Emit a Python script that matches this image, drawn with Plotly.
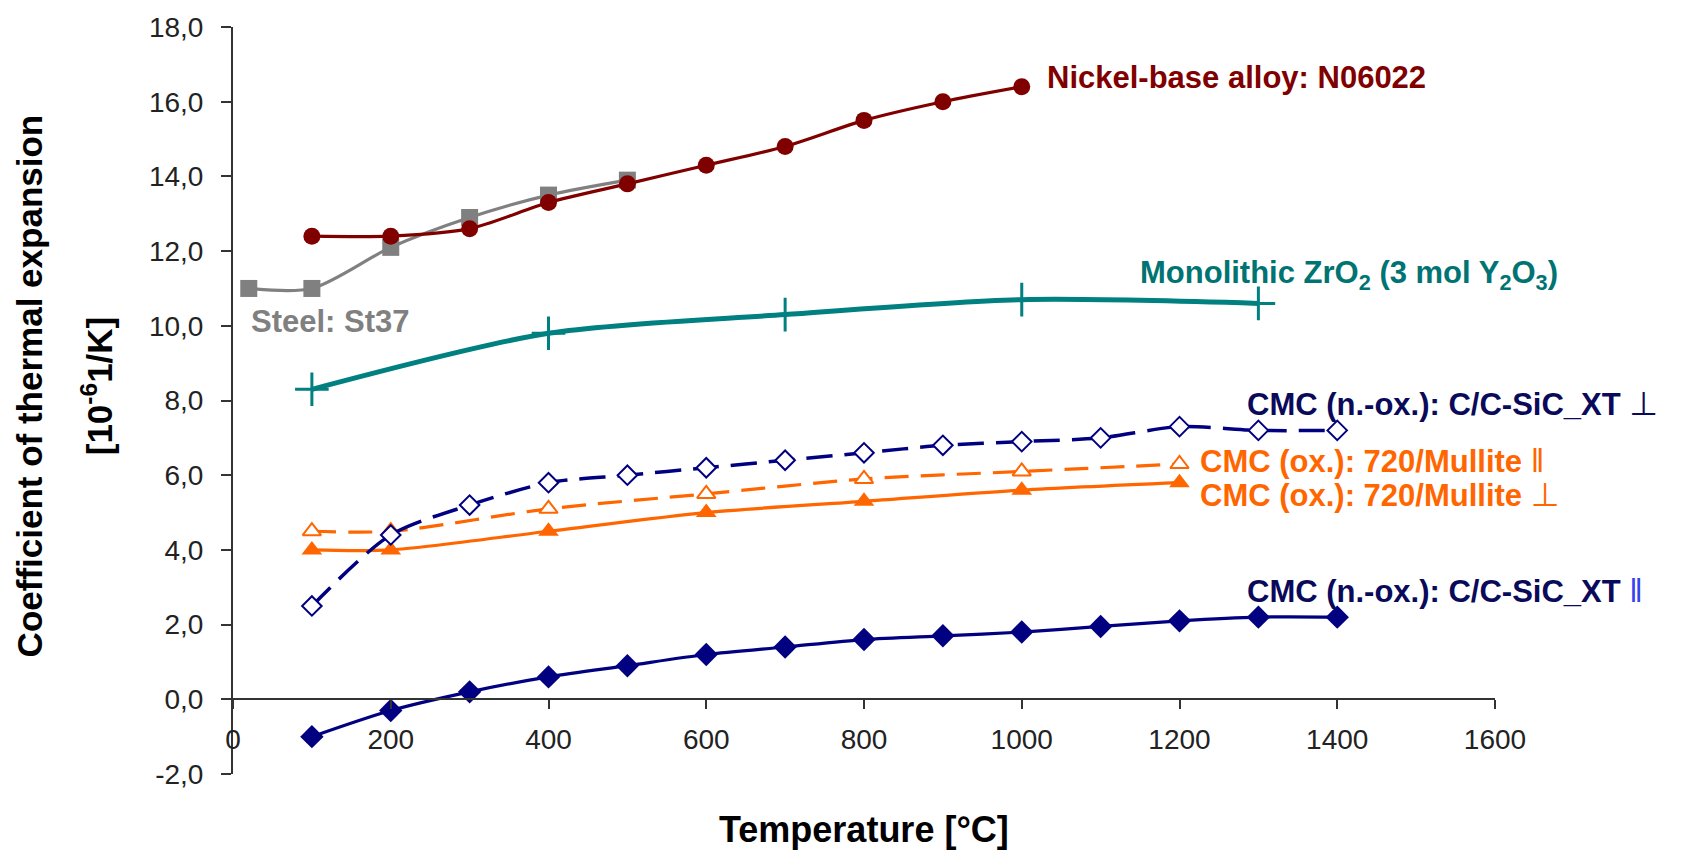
import plotly.graph_objects as go

# Coefficient of thermal expansion [10^-6 1/K] versus temperature [°C]
temp_nickel = [100, 200, 300, 400, 500, 600, 700, 800, 900, 1000]
cte_nickel = [12.4, 12.4, 12.6, 13.3, 13.8, 14.3, 14.8, 15.5, 16.0, 16.4]

temp_steel = [20, 100, 200, 300, 400, 500]
cte_steel = [11.0, 11.0, 12.1, 12.9, 13.5, 13.9]

temp_zro2 = [100, 400, 700, 1000, 1300]
cte_zro2 = [8.3, 9.8, 10.3, 10.7, 10.6]

temp_cc_sic = [100, 200, 300, 400, 500, 600, 700, 800, 900, 1000, 1100, 1200, 1300, 1400]
cte_cc_sic_perp = [2.5, 4.4, 5.2, 5.8, 6.0, 6.2, 6.4, 6.6, 6.8, 6.9, 7.0, 7.3, 7.2, 7.2]
cte_cc_sic_par = [-1.0, -0.3, 0.2, 0.6, 0.9, 1.2, 1.4, 1.6, 1.7, 1.8, 1.95, 2.1, 2.2, 2.2]

temp_mullite = [100, 200, 400, 600, 800, 1000, 1200]
cte_mullite_par = [4.5, 4.5, 5.1, 5.5, 5.9, 6.1, 6.3]
cte_mullite_perp = [4.0, 4.0, 4.5, 5.0, 5.3, 5.6, 5.8]

x_ticks = [0, 200, 400, 600, 800, 1000, 1200, 1400, 1600]
y_ticks = [-2, 0, 2, 4, 6, 8, 10, 12, 14, 16, 18]
# decimal comma, plain hyphen for negatives
y_ticktext = [f"{v:.1f}".replace(".", ",") for v in y_ticks]

RED = "#800000"
GRAY = "#808080"
TEAL = "#008080"
NAVY = "#000080"
ORANGE = "#FF6600"
FONT = "Liberation Sans, Arial, DejaVu Sans, sans-serif"

fig = go.Figure()

def add_series(x, y, color, width, symbol, size, fill, dash="solid", mline=2, smooth=0.8):
    fig.add_trace(go.Scatter(
        x=x, y=y, mode="lines+markers",
        line=dict(color=color, width=width, dash=dash, shape="spline", smoothing=smooth),
        marker=dict(symbol=symbol, size=size, color=fill,
                    line=dict(color=color, width=mline)),
        showlegend=False, hoverinfo="x+y",
    ))

add_series(temp_steel, cte_steel, GRAY, 3.2, "square", 17, GRAY, mline=0)
add_series(temp_nickel, cte_nickel, RED, 3.2, "circle", 17, RED, mline=0)
add_series(temp_zro2, cte_zro2, TEAL, 5, "cross-thin", 24, TEAL, mline=3)
add_series(temp_mullite, cte_mullite_perp, ORANGE, 3.2, "triangle-up", 18, ORANGE, mline=0)
add_series(temp_mullite, cte_mullite_par, ORANGE, 3.2, "triangle-up", 16, "white",
           dash="24px,12px", mline=2)
add_series(temp_cc_sic, cte_cc_sic_par, NAVY, 3.2, "diamond", 18, NAVY, mline=0)
add_series(temp_cc_sic, cte_cc_sic_perp, NAVY, 3.5, "diamond", 15, "white",
           dash="26px,12px", mline=2)

THIN = "font-weight:normal;font-size:33px"
labels = [
    (1029, 16.66, "Nickel-base alloy: N06022", RED),
    (20, 10.12, "Steel: St37", GRAY),
    (1147, 11.37, "Monolithic ZrO<sub>2</sub> (3 mol Y<sub>2</sub>O<sub>3</sub>)", "#007373"),
    (1283, 7.91, f"CMC (n.-ox.): C/C-SiC_XT <span style='{THIN}'>⊥</span>", "#0a0a5a"),
    (1223, 6.39, f"CMC (ox.): 720/Mullite <span style='{THIN}'>‖</span>", ORANGE),
    (1223, 5.49, f"CMC (ox.): 720/Mullite <span style='{THIN}'>⊥</span>", ORANGE),
    (1283, 2.91, f"CMC (n.-ox.): C/C-SiC_XT <span style='color:#3344ee;{THIN}'>‖</span>", "#0a0a5a"),
]
for lx, ly, text, color in labels:
    fig.add_annotation(x=lx, y=ly, xref="x", yref="y", text="<b>" + text + "</b>",
                       showarrow=False, xanchor="left", yanchor="middle",
                       font=dict(family=FONT, size=31, color=color))

# axis titles
fig.add_annotation(x=0.5, y=-0.074, xref="paper", yref="paper",
                   text="<b>Temperature [°C]</b>", showarrow=False,
                   xanchor="center", yanchor="middle",
                   font=dict(family=FONT, size=36, color="black"))
fig.add_annotation(x=-0.161, y=0.52, xref="paper", yref="paper",
                   text="<b>Coefficient of thermal expansion</b>", showarrow=False,
                   textangle=-90, xanchor="center", yanchor="middle",
                   font=dict(family=FONT, size=35, color="black"))
fig.add_annotation(x=-0.108, y=0.52, xref="paper", yref="paper",
                   text="<b>[10<sup>-6</sup>1/K]</b>", showarrow=False,
                   textangle=-90, xanchor="center", yanchor="middle",
                   font=dict(family=FONT, size=35, color="black"))

fig.update_layout(
    width=1684, height=850,
    margin=dict(l=233, r=189, t=23, b=76),
    paper_bgcolor="white", plot_bgcolor="white",
    showlegend=False,
)
fig.update_xaxes(
    range=[0, 1600], tickvals=x_ticks, tickformat="d",
    anchor="free", position=0.1,
    showline=True, linecolor="#333333", linewidth=2,
    ticks="outside", ticklen=9, tickwidth=1.5, tickcolor="#333333",
    ticklabelstandoff=6,
    tickfont=dict(family=FONT, size=28, color="#222222"),
    showgrid=False, zeroline=False,
)
fig.update_yaxes(
    range=[-2, 18], tickvals=y_ticks, ticktext=y_ticktext,
    showline=True, linecolor="#333333", linewidth=2,
    ticks="outside", ticklen=10, tickwidth=1.5, tickcolor="#333333",
    ticklabelstandoff=12,
    tickfont=dict(family=FONT, size=28, color="#222222"),
    showgrid=False, zeroline=False,
)

fig.write_html("out.html")
